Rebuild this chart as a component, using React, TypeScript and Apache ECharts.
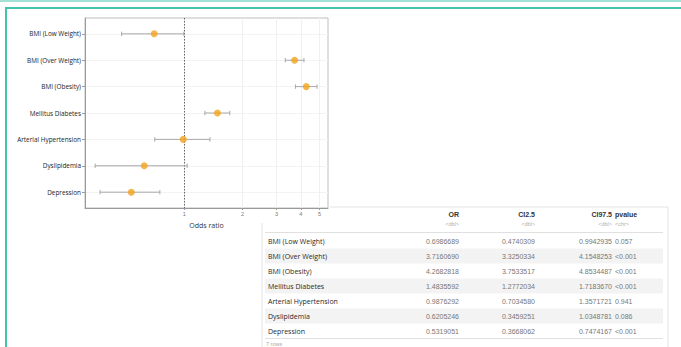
import React, { useEffect, useRef } from "react";
import * as echarts from "echarts";

// Logistic regression results: odds ratios with 95% confidence intervals
const categories = [
  "BMI (Low Weight)",
  "BMI (Over Weight)",
  "BMI (Obesity)",
  "Mellitus Diabetes",
  "Arterial Hypertension",
  "Dyslipidemia",
  "Depression",
];
const oddsRatio = [0.6986689, 3.716069, 4.2682818, 1.4835592, 0.9876292, 0.6205246, 0.5319051];
const ciLow = [0.4740309, 3.3250334, 3.7533517, 1.2772034, 0.703458, 0.3459251, 0.3668062];
const ciHigh = [0.9942935, 4.1548253, 4.8534487, 1.718367, 1.3571721, 1.0348781, 0.7474167];
const pValues = ["0.057", "<0.001", "<0.001", "<0.001", "0.941", "0.086", "<0.001"];
const xTicks = [1, 2, 3, 4, 5];
const tableColumns = ["OR", "CI2.5", "CI97.5", "pvalue"];
const columnTypes = ["<dbl>", "<dbl>", "<dbl>", "<chr>"];

const TEAL = "#45c2ae";
const POINT = "#f2a31b";
const WHISKER = "#a8a8a8";
const LABEL_FONT = '"Open Sans", "Liberation Sans", sans-serif';
const NUM_FONT = '"Liberation Sans", Arial, sans-serif';

function buildTable(): any[] {
  const els: any[] = [];
  const rowY0 = 241;
  const rowH = 15;
  const left = 265;
  const right = 663;
  const colRight = [459, 535, 612];
  const pLeft = 615;

  // outer frame of the printed tibble
  els.push({ type: "line", shape: { x1: 330, y1: 207, x2: 668, y2: 207 }, style: { stroke: "#e3e3e3", lineWidth: 1 } });
  els.push({ type: "line", shape: { x1: 668, y1: 207, x2: 668, y2: 347 }, style: { stroke: "#e3e3e3", lineWidth: 1 } });
  els.push({ type: "line", shape: { x1: 262, y1: 223, x2: 262, y2: 347 }, style: { stroke: "#e3e3e3", lineWidth: 1 } });

  // striped rows
  categories.forEach((_, i) => {
    if (i % 2 === 1) {
      els.push({
        type: "rect",
        shape: { x: left, y: rowY0 + i * rowH - rowH / 2, width: right - left, height: rowH },
        style: { fill: "#f3f3f3" },
      });
    }
  });
  els.push({ type: "line", shape: { x1: left, y1: 232.5, x2: right, y2: 232.5 }, style: { stroke: "#e0e0e0", lineWidth: 1 } });
  els.push({ type: "line", shape: { x1: left, y1: 338.5, x2: right, y2: 338.5 }, style: { stroke: "#e0e0e0", lineWidth: 1 } });

  // header
  tableColumns.forEach((name, c) => {
    const isP = c === 3;
    els.push({
      type: "text",
      x: isP ? pLeft : colRight[c],
      y: 214,
      style: {
        text: name,
        fill: "#333",
        font: `bold 7px ${NUM_FONT}`,
        textAlign: isP ? "left" : "right",
        textVerticalAlign: "middle",
      },
    });
    els.push({
      type: "text",
      x: isP ? pLeft : colRight[c],
      y: 224,
      style: {
        text: columnTypes[c],
        fill: "#b0b0b0",
        font: `5.5px ${NUM_FONT}`,
        textAlign: isP ? "left" : "right",
        textVerticalAlign: "middle",
      },
    });
  });

  // body
  categories.forEach((cat, i) => {
    const y = rowY0 + i * rowH;
    els.push({
      type: "text",
      x: 268,
      y,
      style: { text: cat, fill: "#2a2a2a", font: `7px ${LABEL_FONT}`, textAlign: "left", textVerticalAlign: "middle" },
    });
    [oddsRatio[i], ciLow[i], ciHigh[i]].forEach((v, c) => {
      els.push({
        type: "text",
        x: colRight[c],
        y,
        style: { text: v.toFixed(7), fill: "#777", font: `7px ${NUM_FONT}`, textAlign: "right", textVerticalAlign: "middle" },
      });
    });
    els.push({
      type: "text",
      x: pLeft,
      y,
      style: { text: pValues[i], fill: "#777", font: `7px ${NUM_FONT}`, textAlign: "left", textVerticalAlign: "middle" },
    });
  });

  els.push({
    type: "text",
    x: 266,
    y: 343.5,
    style: { text: `${categories.length} rows`, fill: "#aaa", font: `5.5px ${NUM_FONT}`, textAlign: "left", textVerticalAlign: "middle" },
  });
  return els;
}

export default function App() {
  const ref = useRef<HTMLDivElement>(null);

  useEffect(() => {
    if (!ref.current) return;
    const chart = echarts.init(ref.current, null, { renderer: "svg" });

    const idx = categories.map((_, i) => i);

    const option: any = {
      animation: false,
      backgroundColor: "#ffffff",
      grid: {
        left: 85,
        top: 18,
        right: 681 - 328,
        bottom: 347 - 208,
        show: true,
        borderColor: "#bdbdbd",
        borderWidth: 1,
        backgroundColor: "#ffffff",
      },
      xAxis: {
        type: "log",
        logBase: 10,
        min: 0.3066,
        max: 5.53,
        name: "Odds ratio",
        nameLocation: "middle",
        nameGap: 10,
        nameTextStyle: { fontSize: 7, color: "#333", fontFamily: LABEL_FONT },
        axisLine: { show: true, onZero: false, lineStyle: { color: "#9a9a9a" } },
        axisTick: { show: true, length: 2, customValues: xTicks, lineStyle: { color: "#9a9a9a" } },
        axisLabel: {
          customValues: xTicks,
          fontSize: 5.5,
          color: "#777",
          margin: 3,
          fontFamily: NUM_FONT,
          formatter: (v: number) => String(Math.round(v)),
        },
        splitLine: { show: true, lineStyle: { color: "#f0f0f0", width: 1 } },
        minorSplitLine: { show: false },
      },
      yAxis: {
        type: "value",
        inverse: true,
        min: -0.6,
        max: 6.6,
        axisLine: { show: true, onZero: false, lineStyle: { color: "#9a9a9a" } },
        axisTick: { show: true, length: 3, customValues: idx, lineStyle: { color: "#9a9a9a" } },
        axisLabel: {
          customValues: idx,
          fontSize: 6.4,
          color: "#222",
          margin: 4,
          fontFamily: LABEL_FONT,
          formatter: (v: number) => categories[Math.round(v)] ?? "",
        },
        splitLine: { show: true, lineStyle: { color: "#f3f3f3", width: 1 } },
      },
      series: [
        {
          type: "custom",
          name: "95% CI",
          data: categories.map((_, i) => [ciLow[i], ciHigh[i], i]),
          encode: { x: [0, 1], y: 2 },
          renderItem: (params: any, api: any) => {
            const lo = api.coord([api.value(0), api.value(2)]);
            const hi = api.coord([api.value(1), api.value(2)]);
            const cap = 2.2;
            const style = { stroke: WHISKER, lineWidth: 1 };
            return {
              type: "group",
              children: [
                { type: "line", shape: { x1: lo[0], y1: lo[1], x2: hi[0], y2: hi[1] }, style },
                { type: "line", shape: { x1: lo[0], y1: lo[1] - cap, x2: lo[0], y2: lo[1] + cap }, style },
                { type: "line", shape: { x1: hi[0], y1: hi[1] - cap, x2: hi[0], y2: hi[1] + cap }, style },
              ],
            };
          },
          z: 2,
        },
        {
          type: "scatter",
          name: "Odds ratio",
          data: categories.map((_, i) => [oddsRatio[i], i]),
          symbol: "circle",
          symbolSize: 7,
          itemStyle: { color: POINT },
          z: 3,
          markLine: {
            silent: true,
            symbol: "none",
            label: { show: false },
            lineStyle: { type: [1.5, 1.5], color: "#666", width: 1 },
            data: [{ xAxis: 1 }],
            z: 1,
          },
        },
      ],
      graphic: [
        // page frame
        { type: "rect", shape: { x: 0, y: 0, width: 681, height: 2 }, style: { fill: "#a3e0d6" } },
        { type: "rect", shape: { x: 5, y: 7, width: 676, height: 2 }, style: { fill: TEAL } },
        { type: "rect", shape: { x: 5, y: 7, width: 2, height: 340 }, style: { fill: TEAL } },
        ...buildTable(),
      ],
    };

    chart.setOption(option);
    return () => chart.dispose();
  }, []);

  return (
    <div
      ref={ref}
      style={{ position: "fixed", left: 0, top: 0, width: 681, height: 347, background: "#fff" }}
    />
  );
}
